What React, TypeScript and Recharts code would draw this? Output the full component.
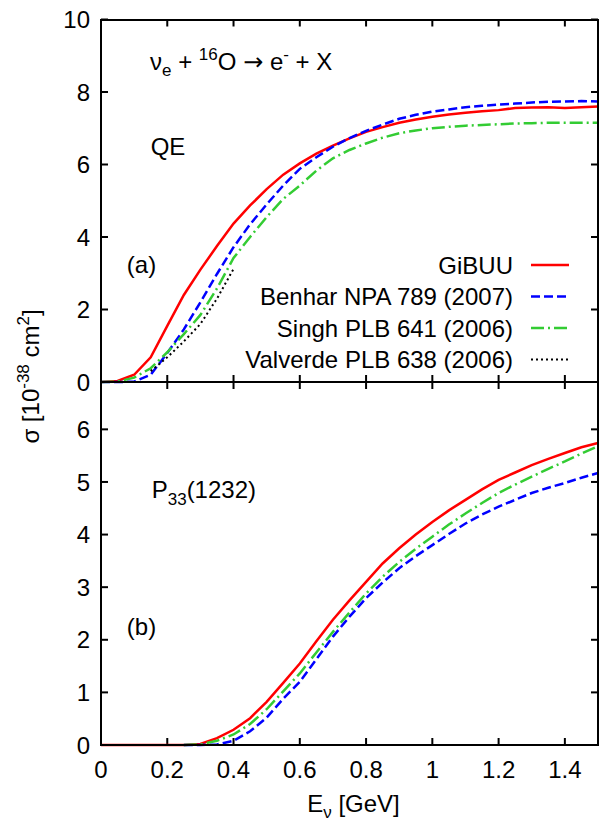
import React from 'react';
import { LineChart, Line, XAxis, YAxis, Legend, ReferenceDot } from 'recharts';

const FONT = '"Liberation Sans", Arial, Helvetica, sans-serif';
const FS = 24;
const SUB = 17;

// neutrino energy E_nu [GeV]
const energy = [0, 0.05, 0.1, 0.15, 0.2, 0.25, 0.3, 0.35, 0.4, 0.45, 0.5, 0.55, 0.6, 0.65, 0.7, 0.75, 0.8, 0.85, 0.9, 0.95, 1.0, 1.05, 1.1, 1.15, 1.2, 1.25, 1.3, 1.35, 1.4, 1.45, 1.5];

// (a) QE cross sections [10^-38 cm^2]
const qeGiBUU = [0, 0.03, 0.2, 0.68, 1.55, 2.4, 3.1, 3.75, 4.37, 4.87, 5.32, 5.72, 6.03, 6.3, 6.52, 6.72, 6.9, 7.03, 7.15, 7.24, 7.32, 7.38, 7.43, 7.47, 7.5, 7.56, 7.57, 7.58, 7.56, 7.58, 7.6];
const qeBenhar = [0, 0, 0.01, 0.2, 0.8, 1.45, 2.2, 2.98, 3.72, 4.35, 4.9, 5.42, 5.88, 6.2, 6.49, 6.73, 6.93, 7.1, 7.26, 7.37, 7.46, 7.52, 7.58, 7.62, 7.65, 7.68, 7.71, 7.73, 7.74, 7.75, 7.74];
const qeSingh = [0, 0.01, 0.12, 0.38, 0.82, 1.32, 1.85, 2.58, 3.42, 4.0, 4.55, 5.05, 5.42, 5.83, 6.17, 6.4, 6.58, 6.74, 6.86, 6.94, 7.0, 7.04, 7.07, 7.09, 7.11, 7.13, 7.14, 7.15, 7.15, 7.15, 7.15];
const qeValverde = [null, null, null, 0.3, 0.68, 1.12, 1.6, 2.3, 3.12, null, null, null, null, null, null, null, null, null, null, null, null, null, null, null, null, null, null, null, null, null, null];

// (b) P33(1232) cross sections [10^-38 cm^2]
const resGiBUU = [0, 0, 0, 0, 0, 0, 0.02, 0.13, 0.29, 0.51, 0.82, 1.18, 1.55, 1.97, 2.38, 2.75, 3.1, 3.45, 3.74, 4.0, 4.24, 4.46, 4.66, 4.86, 5.04, 5.18, 5.32, 5.44, 5.55, 5.66, 5.74];
const resBenhar = [null, null, null, null, null, 0, 0, 0.01, 0.08, 0.26, 0.52, 0.88, 1.2, 1.63, 2.06, 2.44, 2.79, 3.09, 3.36, 3.59, 3.8, 4.01, 4.21, 4.38, 4.53, 4.66, 4.79, 4.89, 4.98, 5.08, 5.17];
const resSingh = [null, null, null, null, null, 0, 0.01, 0.08, 0.2, 0.4, 0.68, 1.02, 1.36, 1.76, 2.15, 2.52, 2.88, 3.2, 3.48, 3.73, 3.96, 4.19, 4.4, 4.6, 4.79, 4.95, 5.1, 5.25, 5.39, 5.54, 5.68];

const xTicks = [0, 0.2, 0.4, 0.6, 0.8, 1, 1.2, 1.4];
const qeYTicks = [0, 2, 4, 6, 8, 10];
const resYTicks = [0, 1, 2, 3, 4, 5, 6];
const xDomain = [0, 1.5];
const qeYDomain = [0, 10];
const resYDomain = [0, 6.9];

const seriesNames = ['GiBUU', 'Benhar NPA 789 (2007)', 'Singh PLB 641 (2006)', 'Valverde PLB 638 (2006)'];

const qeData = energy.map((e, i) => ({ e, gibuu: qeGiBUU[i], benhar: qeBenhar[i], singh: qeSingh[i], valverde: qeValverde[i] }));
const resData = energy.map((e, i) => ({ e, gibuu: resGiBUU[i], benhar: resBenhar[i], singh: resSingh[i] }));

const series = [
  { key: 'gibuu', name: seriesNames[0], color: '#ff0000', dash: undefined as string | undefined, width: 2.5 },
  { key: 'benhar', name: seriesNames[1], color: '#0000ff', dash: '9 4', width: 2.5 },
  { key: 'singh', name: seriesNames[2], color: '#33cc33', dash: '13 4 2 4', width: 2.5 },
  { key: 'valverde', name: seriesNames[3], color: '#000000', dash: '2 3', width: 2 },
];

// layout
const W = 599;
const H = 821;
const PLOT_LEFT = 101;
const PLOT_RIGHT = 598;
const TOP_PLOT_TOP = 19.5;
const SPLIT = 382;
const BOTTOM_PLOT_BOTTOM = 745;
const TICK_PX = 7;

const textProps = { fontFamily: FONT, fontSize: FS, fill: '#000', style: { whiteSpace: 'pre' as const } };

const LeftTick = (props: any) => {
  const { x, y, payload } = props;
  return (
    <text x={x - 11} y={y} dy="0.36em" textAnchor="end" {...textProps}>{String(payload.value)}</text>
  );
};

const BottomTick = (props: any) => {
  const { x, y, payload } = props;
  return (
    <text x={x} y={y + 33} textAnchor="middle" {...textProps}>{String(payload.value)}</text>
  );
};

const YLabel = (props: any) => {
  const vb = props.viewBox || { x: 41, y: 19.5 };
  const cx = vb.x - 2;
  const cy = vb.y + 357;
  return (
    <text x={cx} y={cy} textAnchor="middle" transform={`rotate(-90, ${cx}, ${cy})`} {...textProps}>
      <tspan>σ [10</tspan>
      <tspan dy={-10} fontSize={SUB}>-38</tspan>
      <tspan dy={10}> cm</tspan>
      <tspan dy={-10} fontSize={SUB}>2</tspan>
      <tspan dy={10}>]</tspan>
    </text>
  );
};

const XLabel = (props: any) => {
  const vb = props.viewBox || { x: 101, y: 745, width: 497 };
  const cx = vb.x + vb.width / 2 + 4;
  const cy = vb.y + 67;
  return (
    <text x={cx} y={cy} textAnchor="middle" {...textProps}>
      <tspan>E</tspan>
      <tspan dy={6} fontSize={SUB}>ν</tspan>
      <tspan dy={-6}> [GeV]</tspan>
    </text>
  );
};

const TitleShape = (p: any) => (
  <text x={p.cx} y={p.cy} {...textProps}>
    <tspan>ν</tspan>
    <tspan dy={6} fontSize={SUB}>e</tspan>
    <tspan dy={-6}> + </tspan>
    <tspan dy={-10} fontSize={SUB}>16</tspan>
    <tspan dy={10}>O </tspan>
    <tspan fontFamily='"DejaVu Sans", sans-serif'>→</tspan>
    <tspan> e</tspan>
    <tspan dy={-10} fontSize={SUB}>-</tspan>
    <tspan dy={10}> + X</tspan>
  </text>
);

const PlainShape = (label: string) => (p: any) => (
  <text x={p.cx} y={p.cy} {...textProps}>{label}</text>
);

const P33Shape = (p: any) => (
  <text x={p.cx} y={p.cy} {...textProps}>
    <tspan>P</tspan>
    <tspan dy={7} fontSize={SUB}>33</tspan>
    <tspan dy={-7}>(1232)</tspan>
  </text>
);

const renderLegend = (props: any) => {
  const payload: any[] = (props && props.payload) || [];
  const items = seriesNames.map((n) => {
    const p = payload.find((q) => q.value === n);
    const cfg = series.find((s) => s.name === n)!;
    return { name: n, color: p ? p.color : cfg.color, dash: cfg.dash, width: cfg.width };
  });
  return (
    <svg width={200} height={135} style={{ display: 'block', overflow: 'visible' }}>
      {items.map((it, i) => {
        const cy = 20 + i * 31.5;
        return (
          <g key={it.name}>
            <text x={133} y={cy} dy="0.36em" textAnchor="end" {...textProps}>{it.name}</text>
            <line x1={151} x2={189} y1={cy} y2={cy} stroke={it.color} strokeWidth={it.width} strokeDasharray={it.dash} />
          </g>
        );
      })}
    </svg>
  );
};

const lines = (withValverde: boolean) =>
  series
    .filter((s) => withValverde || s.key !== 'valverde')
    .map((s) => (
      <Line
        key={s.key}
        xAxisId="x"
        yAxisId="y"
        type="linear"
        dataKey={s.key}
        name={s.name}
        stroke={s.color}
        strokeWidth={s.width}
        strokeDasharray={s.dash}
        dot={false}
        activeDot={false}
        connectNulls={false}
        isAnimationActive={false}
      />
    ));

// inward tick marks on all four sides, drawn through the chart scales
const tickMarks = (yTicks: number[], yDomain: number[], plotHeightPx: number) => {
  const xMax = xDomain[1];
  const yMax = yDomain[1];
  const dy = (TICK_PX * yMax) / plotHeightPx;
  const dx = (TICK_PX * xMax) / (PLOT_RIGHT - PLOT_LEFT);
  const segs: { id: string; pts: { e: number; f: number }[] }[] = [];
  xTicks.forEach((t) => {
    segs.push({ id: `b${t}`, pts: [{ e: t, f: 0 }, { e: t, f: dy }] });
    segs.push({ id: `t${t}`, pts: [{ e: t, f: yMax }, { e: t, f: yMax - dy }] });
  });
  yTicks.forEach((v) => {
    segs.push({ id: `l${v}`, pts: [{ e: 0, f: v }, { e: dx, f: v }] });
    segs.push({ id: `r${v}`, pts: [{ e: xMax, f: v }, { e: xMax - dx, f: v }] });
  });
  return segs.map((s) => (
    <Line key={s.id} name={`tick-${s.id}`} data={s.pts} dataKey="f" xAxisId="x" yAxisId="y" type="linear"
      stroke="#000" strokeWidth={2} dot={false} activeDot={false} legendType="none" isAnimationActive={false} />
  ));
};

// plot frame (box around each panel)
const FrameBox = ({ top, bottom }: { top: number; bottom: number }) => (
  <div
    style={{
      position: 'absolute',
      left: PLOT_LEFT - 1,
      top: top - 1,
      width: PLOT_RIGHT - PLOT_LEFT + 2,
      height: bottom - top + 2,
      border: '2px solid #000',
      boxSizing: 'border-box',
      pointerEvents: 'none',
    }}
  />
);

export default function App() {
  return (
    <div style={{ position: 'absolute', left: 0, top: 0, width: W, height: H, background: '#fff', overflow: 'hidden' }}>
      {/* (a) QE panel */}
      <div style={{ position: 'absolute', left: 0, top: 0 }}>
        <LineChart width={W} height={H} data={qeData}
          margin={{ top: TOP_PLOT_TOP, right: W - PLOT_RIGHT, bottom: H - SPLIT, left: PLOT_LEFT - 60 }}>
          <XAxis xAxisId="x" hide type="number" dataKey="e" domain={xDomain} ticks={xTicks} />
          <YAxis yAxisId="y" orientation="left" width={60} type="number" domain={qeYDomain} ticks={qeYTicks} interval={0}
            axisLine={AXIS_LINE} tickLine={false} tickSize={0} tickMargin={0} tick={LeftTick}
            label={{ content: YLabel }} />
          {tickMarks(qeYTicks, qeYDomain, SPLIT - TOP_PLOT_TOP)}
          {lines(true)}
          <ReferenceDot xAxisId="x" yAxisId="y" x={0.148} y={8.61} r={0} ifOverflow="visible" shape={TitleShape} />
          <ReferenceDot xAxisId="x" yAxisId="y" x={0.15} y={6.26} r={0} ifOverflow="visible" shape={PlainShape('QE')} />
          <ReferenceDot xAxisId="x" yAxisId="y" x={0.078} y={3.0} r={0} ifOverflow="visible" shape={PlainShape('(a)')} />
          <Legend layout="horizontal" verticalAlign="middle" align="center" content={renderLegend}
            wrapperStyle={{ position: 'absolute', top: 245, left: 380, width: 200, height: 135 }} />
        </LineChart>
      </div>
      {/* (b) P33(1232) panel */}
      <div style={{ position: 'absolute', left: 0, top: 0 }}>
        <LineChart width={W} height={H} data={resData}
          margin={{ top: SPLIT, right: W - PLOT_RIGHT, bottom: 0, left: PLOT_LEFT - 60 }}>
          <XAxis xAxisId="x" orientation="bottom" height={H - BOTTOM_PLOT_BOTTOM} type="number" dataKey="e" domain={xDomain} ticks={xTicks} interval={0}
            axisLine={AXIS_LINE} tickLine={false} tickSize={0} tickMargin={0} tick={BottomTick}
            label={{ content: XLabel }} />
          <YAxis yAxisId="y" orientation="left" width={60} type="number" domain={resYDomain} ticks={resYTicks} interval={0}
            axisLine={AXIS_LINE} tickLine={false} tickSize={0} tickMargin={0} tick={LeftTick} />
          {tickMarks(resYTicks, resYDomain, BOTTOM_PLOT_BOTTOM - SPLIT)}
          {lines(false)}
          <ReferenceDot xAxisId="x" yAxisId="y" x={0.153} y={4.7} r={0} ifOverflow="visible" shape={P33Shape} />
          <ReferenceDot xAxisId="x" yAxisId="y" x={0.078} y={2.09} r={0} ifOverflow="visible" shape={PlainShape('(b)')} />
        </LineChart>
      </div>
      <FrameBox top={TOP_PLOT_TOP} bottom={SPLIT} />
      <FrameBox top={SPLIT} bottom={BOTTOM_PLOT_BOTTOM} />
    </div>
  );
}

const AXIS_LINE = { stroke: '#000', strokeWidth: 2 };
